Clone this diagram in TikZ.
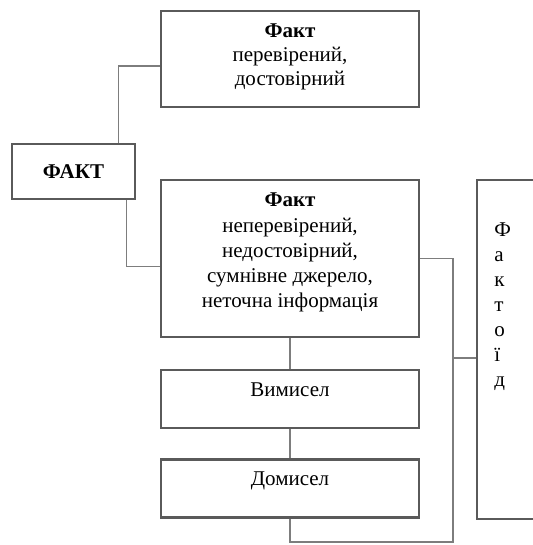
\documentclass[tikz,border=0pt]{standalone}
\usepackage{fontspec}
\setmainfont{Liberation Serif}
\usetikzlibrary{positioning}
\definecolor{boxgray}{RGB}{90,90,90}
\definecolor{linkgray}{RGB}{125,125,125}
\begin{document}
\begin{tikzpicture}[x=0.5pt,y=-0.5pt,
   box/.style={draw=boxgray,line width=1.3pt,minimum width=129pt,inner sep=0pt},
   txt/.style={align=center,inner sep=0pt,font=\fontsize{10.5}{12}\selectfont},
   link/.style={draw=linkgray,line width=0.6pt}]
   \useasboundingbox (0,0) rectangle (532,545);
   % boxes
   \node[box,minimum height=78.5pt] (mid) at (290,258.5) {};
   \node[box,minimum height=48pt] (sure) at (290,59) {};
   \node[box,minimum width=61.5pt,minimum height=27.5pt] (fakt) at (73.5,171.5) {};
   \node[box,minimum height=29pt] (vym) at (290,399) {};
   \node[box,minimum height=29pt] (dom) at (290,488.5) {};
   \node[box,minimum width=45pt,minimum height=169.5pt] (factoid) at (522,349.5) {};
   % texts
   \node[txt] (fakttxt) at (fakt) {\textbf{ФАКТ}};
   \node[txt,below=7pt of sure.north] (suretxt) {\textbf{Факт}\\перевірений,\\достовірний};
   \node[txt,below=7pt of mid.north,font=\fontsize{10.5}{12.6}\selectfont] (midtxt) {\textbf{Факт}\\неперевірений,\\недостовірний,\\сумнівне джерело,\\неточна інформація};
   \node[txt] (vymtxt) at ([yshift=4.5pt]vym.center) {Вимисел};
   \node[txt] (domtxt) at ([yshift=4pt]dom.center) {Домисел};
   \node[txt,align=left,anchor=north west,font=\fontsize{10.5}{12.5}\selectfont] (factoidtxt) at (494,222) {Ф\\а\\к\\т\\о\\ї\\д};
   % connectors
   \coordinate (bus) at (453,358);
   \coordinate (low) at (453,542);
   \draw[link] ([xshift=-9pt]fakt.north east) |- ([yshift=-3.5pt]sure.west);
   \draw[link] ([xshift=-5pt]fakt.south east) |- ([yshift=-4pt]mid.west);
   \draw[link] (mid.south) -- (vym.north);
   \draw[link] (vym.south) -- (dom.north);
   \draw[link] (dom.south) |- (low) |- (mid.east);
   \draw[link] (bus) -- (bus -| factoid.west);
\end{tikzpicture}
\end{document}
